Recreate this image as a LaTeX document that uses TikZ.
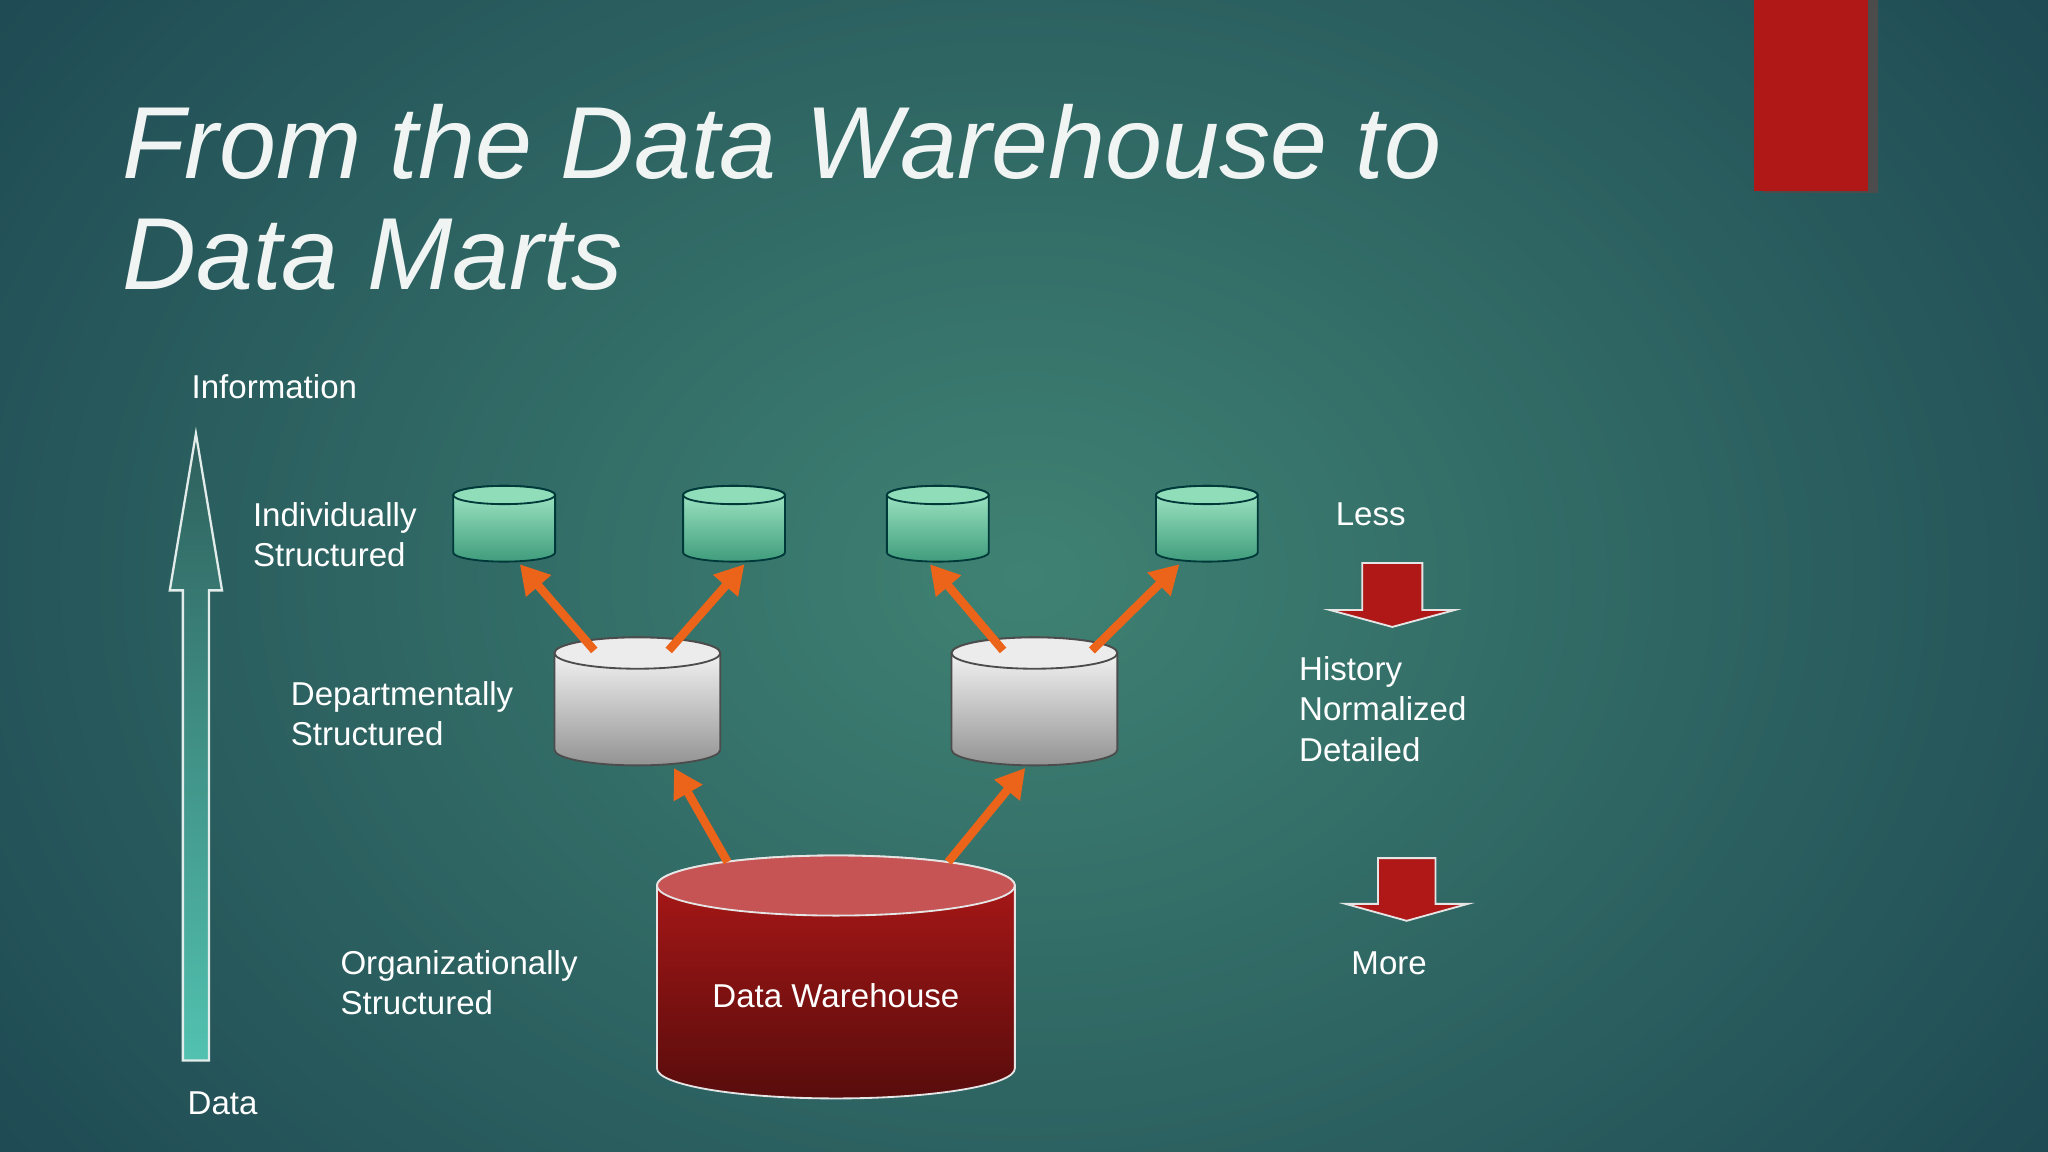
\documentclass[tikz,border=0pt]{standalone}
\usepackage{fontspec}
\setmainfont{Liberation Sans}
\usetikzlibrary{arrows.meta}
\definecolor{bgin}{HTML}{3F8273}
\definecolor{bgout}{HTML}{1B4450}
\definecolor{orng}{HTML}{EC6419}
\definecolor{dred}{HTML}{B01818}
\definecolor{gtop}{HTML}{A6EBC9}
\definecolor{gbot}{HTML}{3F9C7C}
\definecolor{gend}{HTML}{8FDDB9}
\definecolor{atop}{HTML}{2E5F5C}
\definecolor{abot}{HTML}{52C2B0}
\definecolor{rend}{HTML}{C65454}
\newcommand\mycyl[9]{%
  \shade[top color=#6,bottom color=#7,draw=#9,line width=0.4pt]
    (#1-#4,#2) -- (#1-#4,#3) arc[start angle=180,end angle=360,x radius=#4*0.01cm,y radius=#5*0.01cm]
    -- (#1+#4,#2) arc[start angle=0,end angle=180,x radius=#4*0.01cm,y radius=#5*0.01cm] -- cycle;
  \filldraw[fill=#8,draw=#9,line width=0.4pt] (#1,#2) ellipse[x radius=#4*0.01cm,y radius=#5*0.01cm];
}
\tikzset{txt/.style={text=white,font=\fontsize{7.2}{8.8}\selectfont,anchor=base west,inner sep=0pt},
  oarr/.style={draw=orng,line width=0.065cm,-{Triangle[length=0.22cm,width=0.24cm]}}}
\begin{document}
\begin{tikzpicture}[x=0.01cm,y=-0.01cm]
\useasboundingbox (0,0) rectangle (1568,882);
\shade[inner color=bgin,outer color=bgout] (-300,-400) rectangle (1868,1282);
\clip (0,0) rectangle (1568,882);
% red block
\fill[black!70] (1350,0) rectangle (1438,148);
\fill[dred] (1343,0) rectangle (1430,146);
% title
\node[text=white!92!bgin,font=\itshape\fontsize{22.3}{30}\selectfont,anchor=base west,inner sep=0pt] (t1) at (93,137) {From the Data Warehouse to};
\node[text=white!92!bgin,font=\itshape\fontsize{22.3}{30}\selectfont,anchor=base west,inner sep=0pt] (t2) at (93,222) {Data Marts};
% left big arrow
\shade[bottom color=abot, top color=atop, draw=white!85!bgin, line width=0.5pt]
 (140,812) -- (140,452) -- (130,452) -- (150,332) -- (170,452) -- (160,452) -- (160,812) -- cycle;
% cylinders
\foreach \cx in {386,562,718,924}
  {\mycyl{\cx}{379}{423}{39}{7}{gtop}{gbot}{gend}{teal!45!black}}
\mycyl{488}{500}{574}{63.5}{12}{white}{gray!85}{gray!15}{gray!60!black}
\mycyl{792}{500}{574}{63.5}{12}{white}{gray!85}{gray!15}{gray!60!black}
\mycyl{640}{678}{818}{137}{23}{dred}{dred!50!black}{rend}{white!80!gray}
\node[txt,anchor=base] (dw) at (640,771) {Data Warehouse};
% coordinates
\coordinate (g1a) at (455,498); \coordinate (g1b) at (398,432);
\coordinate (g2a) at (512,498); \coordinate (g2b) at (570,432);
\coordinate (g3a) at (768,498); \coordinate (g3b) at (712,432);
\coordinate (g4a) at (836,498); \coordinate (g4b) at (903,432);
\coordinate (r1a) at (557,660); \coordinate (r1b) at (516,588);
\coordinate (r2a) at (726,660); \coordinate (r2b) at (785,588);
\foreach \a/\b in {g1a/g1b,g2a/g2b,g3a/g3b,g4a/g4b,r1a/r1b,r2a/r2b} \draw[oarr] (\a) -- (\b);
% red down arrows
\filldraw[fill=dred,draw=white!80!gray,line width=0.4pt] (1043,431) -- (1089,431) -- (1089,467) -- (1114,467) -- (1066,480) -- (1018,467) -- (1043,467) -- cycle;
\filldraw[fill=dred,draw=white!80!gray,line width=0.4pt] (1055,657) -- (1099,657) -- (1099,692) -- (1124,692) -- (1077,705) -- (1030,692) -- (1055,692) -- cycle;
% texts
\node[txt] (info) at (146,305) {Information};
\node[txt] (ind1) at (193,403) {Individually};
\node[txt] (ind2) at (193,434) {Structured};
\node[txt] (dep1) at (222,540) {Departmentally};
\node[txt] (dep2) at (222,571) {Structured};
\node[txt] (org1) at (260,746) {Organizationally};
\node[txt] (org2) at (260,777) {Structured};
\node[txt] (data) at (143,853) {Data};
\node[txt] (less) at (1022,402) {Less};
\node[txt] (h1) at (994,521) {History};
\node[txt] (h2) at (994,552) {Normalized};
\node[txt] (h3) at (994,583) {Detailed};
\node[txt] (more) at (1034,746) {More};
\end{tikzpicture}
\end{document}
